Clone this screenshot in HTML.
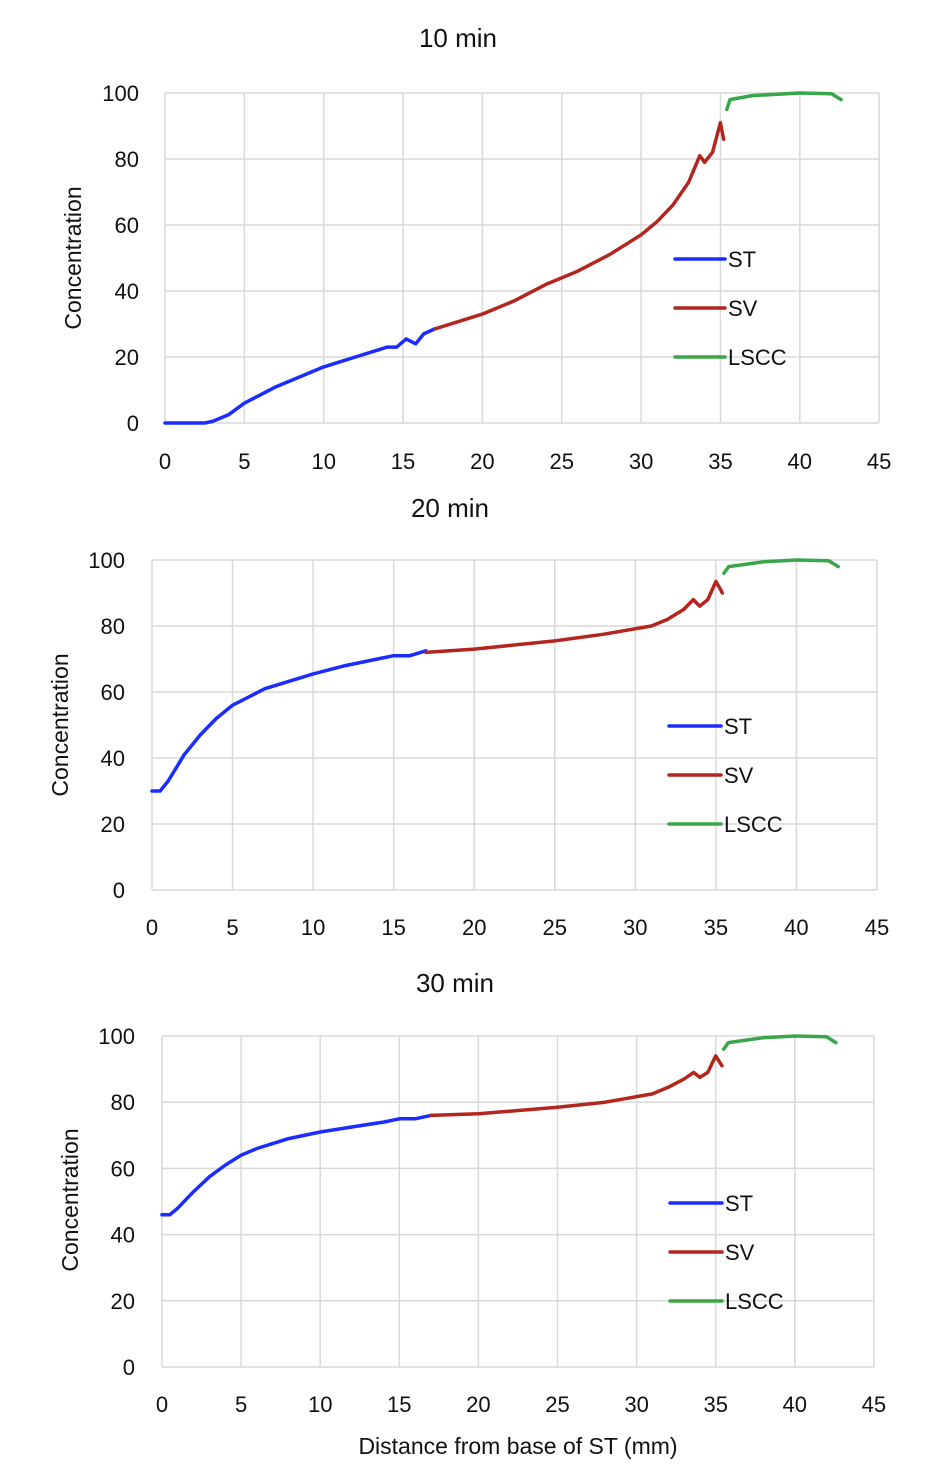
<!DOCTYPE html>
<html><head><meta charset="utf-8"><style>
body{margin:0;background:#fff;}
svg{display:block;font-family:"Liberation Sans",sans-serif;}
</style></head><body>
<svg id="s" width="930" height="1484" xmlns="http://www.w3.org/2000/svg"></svg>
<script>
const S=document.getElementById('s');let h='';
const charts=[
{x0:165,sx:15.87,y0:423,sy:3.30,title:'10 min',tx:458,ty:47,ylx:139,ylab:81,ylc:258,xlb:469,
leg:[675,725,259],
st:[[0,0],[2.5,0],[3,0.5],[4,2.5],[5,6],[6,8.5],[7,11],[8,13],[9,15],[10,17],[11,18.5],[12,20],[13,21.5],[14,23],[14.6,23],[15.2,25.5],[15.8,24],[16.3,27],[17,28.5]],
sv:[[17,28.5],[20,33],[22,37],[24,42],[26,46],[28,51],[30,57],[31,61],[32,66],[33,73],[33.7,81],[34,79],[34.5,82],[35,91],[35.2,86]],
ls:[[35.4,95],[35.6,98],[37,99.2],[40,100],[42,99.8],[42.6,98]]},
{x0:152,sx:16.11,y0:890,sy:3.30,title:'20 min',tx:450,ty:517,ylx:125,ylab:68,ylc:725,xlb:935,
leg:[669,721,726],
st:[[0,30],[0.5,30],[1,33],[2,41],[3,47],[4,52],[5,56],[6,58.5],[7,61],[8,62.5],[10,65.5],[12,68],[14,70],[15,71],[16,71],[17,72.5]],
sv:[[17,72],[20,73],[25,75.5],[28,77.5],[31,80],[32,82],[33,85],[33.6,88],[34,86],[34.5,88],[35,93.5],[35.3,91],[35.4,90]],
ls:[[35.5,96],[35.8,98],[38,99.5],[40,100],[42,99.8],[42.6,98]]},
{x0:162,sx:15.82,y0:1367,sy:3.31,title:'30 min',tx:455,ty:992,ylx:135,ylab:78,ylc:1200,xlb:1412,
leg:[670,722,1203],
st:[[0,46],[0.5,46],[1,48],[2,53],[3,57.5],[4,61],[5,64],[6,66],[7,67.5],[8,69],[10,71],[12,72.5],[14,74],[15,75],[16,75],[17,76]],
sv:[[17,76],[20,76.5],[25,78.5],[28,80],[31,82.5],[32,84.5],[33,87],[33.6,89],[34,87.5],[34.5,89],[35,94],[35.4,91]],
ls:[[35.5,96],[35.8,98],[38,99.5],[40,100],[42,99.8],[42.6,98]]}
];
for(const c of charts){
 const X=v=>c.x0+v*c.sx, Y=v=>c.y0-v*c.sy;
 h+=`<text x="${c.tx}" y="${c.ty}" font-size="26" text-anchor="middle" fill="#111">${c.title}</text>`;
 for(let i=0;i<=45;i+=5){h+=`<line x1="${X(i)}" x2="${X(i)}" y1="${Y(100)}" y2="${Y(0)}" stroke="#d9d9d9" stroke-width="1.5"/>`;
  h+=`<text x="${X(i)}" y="${c.xlb}" font-size="22" text-anchor="middle" fill="#111">${i}</text>`;}
 for(let j=0;j<=100;j+=20){h+=`<line x1="${X(0)}" x2="${X(45)}" y1="${Y(j)}" y2="${Y(j)}" stroke="#d9d9d9" stroke-width="1.5"/>`;
  h+=`<text x="${c.ylx}" y="${Y(j)+8}" font-size="22" text-anchor="end" fill="#111">${j}</text>`;}
 h+=`<text transform="translate(${c.ylab},${c.ylc}) rotate(-90)" font-size="23" text-anchor="middle" fill="#111">Concentration</text>`;
 const P=(d,col)=>{h+=`<polyline points="${d.map(p=>X(p[0]).toFixed(1)+','+Y(p[1]).toFixed(1)).join(' ')}" fill="none" stroke="${col}" stroke-width="3.5" stroke-linejoin="round" stroke-linecap="round"/>`;};
 P(c.st,'#1a2cff');P(c.sv,'#b3261e');P(c.ls,'#3aa64a');
 const L=[['ST','#1a2cff'],['SV','#b3261e'],['LSCC','#3aa64a']];
 L.forEach((l,k)=>{const y=c.leg[2]+k*49;h+=`<line x1="${c.leg[0]}" x2="${c.leg[1]}" y1="${y}" y2="${y}" stroke="${l[1]}" stroke-width="3.5" stroke-linecap="round"/>`;
  h+=`<text x="${c.leg[1]+3}" y="${y+8}" font-size="22" fill="#111">${l[0]}</text>`;});
}
h+=`<text x="518" y="1454" font-size="23" text-anchor="middle" fill="#111">Distance from base of ST (mm)</text>`;
S.innerHTML=h;
</script>
</body></html>
